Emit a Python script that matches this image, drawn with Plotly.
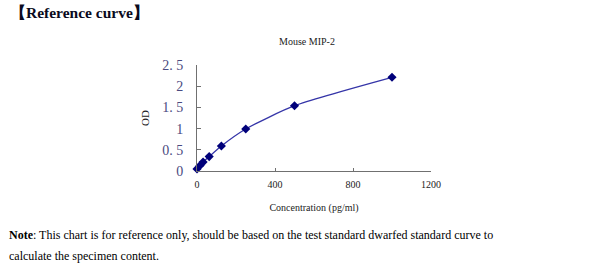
import plotly.graph_objects as go

concentration = [0, 15.6, 31.25, 62.5, 125, 250, 500, 1000]
od_values = [0.05, 0.13, 0.21, 0.34, 0.59, 0.99, 1.54, 2.21]
x_ticks = [0, 400, 800, 1200]
y_ticks = [0, 0.5, 1, 1.5, 2, 2.5]
y_tick_text = ["0", "0. 5", "1", "1. 5", "2", "2. 5"]

SERIF = "Liberation Serif, Times New Roman, serif"

fig = go.Figure()
fig.add_trace(go.Scatter(
    x=concentration, y=od_values, mode="lines+markers",
    line=dict(color="#3535a8", width=1.3, shape="spline", smoothing=0.6),
    marker=dict(symbol="diamond", size=7, color="#00007a"),
    cliponaxis=False, showlegend=False,
))

fig.update_layout(
    width=600, height=280,
    margin=dict(l=197, r=169, t=65, b=109),
    paper_bgcolor="white", plot_bgcolor="white",
    font=dict(family=SERIF, color="black"),
    title=dict(text="Mouse MIP-2", x=307/600, xanchor="center", y=1 - 41/280,
               yanchor="middle", font=dict(size=10, family=SERIF, color="#222")),
    xaxis=dict(range=[0, 1200], tickvals=x_ticks, ticks="inside", ticklen=3,
               tickcolor="#707070", showline=True, linecolor="#707070", linewidth=1,
               showgrid=False, zeroline=False, ticklabelstandoff=4,
               tickfont=dict(size=10, family=SERIF, color="#222"),
               title=dict(text="Concentration (pg/ml)", font=dict(size=10, family=SERIF, color="#222"),
                          standoff=14)),
    yaxis=dict(range=[0, 2.5], tickvals=y_ticks, ticktext=y_tick_text, ticks="inside",
               ticklen=4, tickcolor="#707070", showline=True, linecolor="#707070",
               linewidth=1, showgrid=False, zeroline=False, ticklabelstandoff=10,
               tickfont=dict(size=14, family=SERIF, color="#4a4a80"),
               title=dict(text="OD", font=dict(size=11, family=SERIF, color="#222"), standoff=10)),
)

fig.add_annotation(text="<b>【Reference curve】</b>", xref="paper", yref="paper",
                   x=-197/234 + 8/234, y=1 + (65 - 12)/106, xanchor="left", yanchor="middle",
                   showarrow=False, font=dict(size=15.5, family=SERIF, color="#0a0a20"))
fig.add_annotation(text="<b>Note</b>: This chart is for reference only, should be based on the test standard dwarfed standard curve to",
                   xref="paper", yref="paper", x=-(197 - 7)/234, y=-(235 - 171)/106,
                   xanchor="left", yanchor="middle", showarrow=False,
                   font=dict(size=12, family=SERIF, color="black"))
fig.add_annotation(text="calculate the specimen content.",
                   xref="paper", yref="paper", x=-(197 - 7)/234, y=-(256 - 171)/106,
                   xanchor="left", yanchor="middle", showarrow=False,
                   font=dict(size=12, family=SERIF, color="black"))

fig.write_html("out.html")
